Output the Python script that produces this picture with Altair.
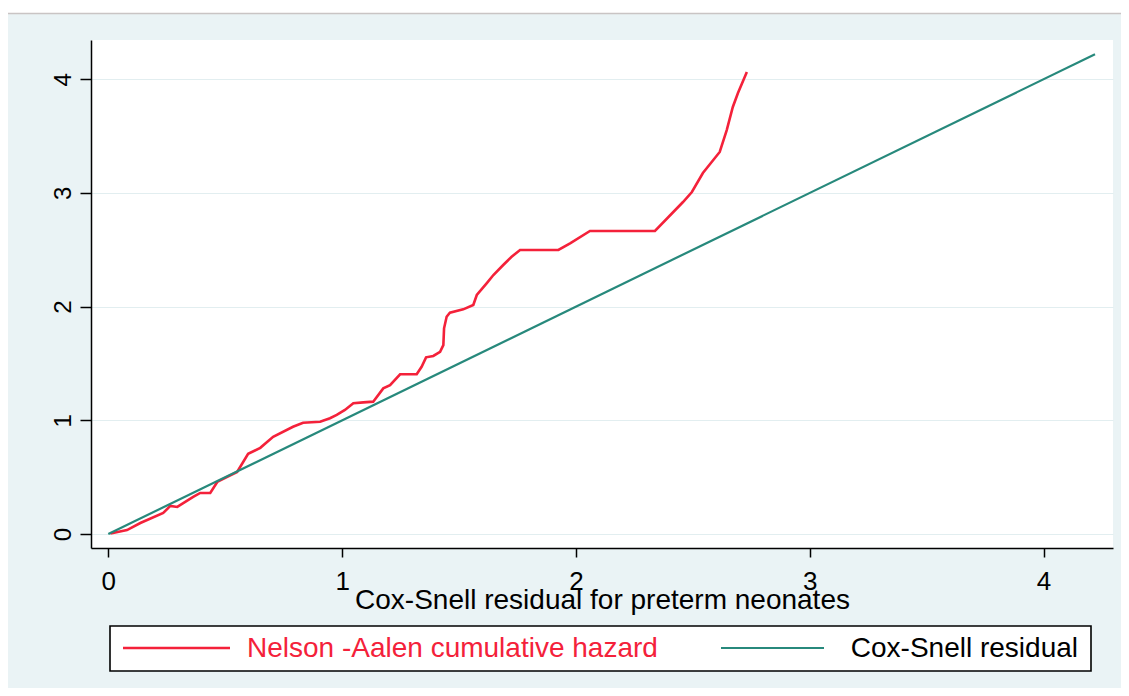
import altair as alt
import pandas as pd

# Nelson-Aalen cumulative hazard
na_x = [0.009, 0.08, 0.137, 0.235, 0.265, 0.295, 0.363, 0.393, 0.436, 0.466, 0.509, 0.551,
        0.598, 0.65, 0.705, 0.79, 0.833, 0.906, 0.948, 0.977, 1.012, 1.048, 1.091, 1.133,
        1.176, 1.205, 1.248, 1.319, 1.34, 1.359, 1.39, 1.419, 1.433, 1.436, 1.447, 1.461,
        1.518, 1.561, 1.576, 1.618, 1.647, 1.689, 1.725, 1.761, 1.925, 1.975, 2.06, 2.338,
        2.458, 2.496, 2.543, 2.615, 2.645, 2.671, 2.693, 2.731]
na_y = [0.005, 0.035, 0.097, 0.185, 0.247, 0.238, 0.326, 0.361, 0.361, 0.458, 0.502, 0.546,
        0.705, 0.758, 0.855, 0.943, 0.978, 0.987, 1.018, 1.047, 1.091, 1.15, 1.158, 1.164,
        1.281, 1.31, 1.405, 1.405, 1.471, 1.554, 1.566, 1.603, 1.662, 1.809, 1.911, 1.946,
        1.976, 2.014, 2.102, 2.205, 2.278, 2.366, 2.439, 2.498, 2.498, 2.557, 2.665, 2.665,
        2.92, 3.008, 3.175, 3.36, 3.553, 3.756, 3.879, 4.063]

# Cox-Snell residual reference line
cs_x = [0.0, 4.22]
cs_y = [0.0, 4.22]

tick_vals = [0, 1, 2, 3, 4]
x_title = "Cox-Snell residual for preterm neonates"
legend_labels = ["Nelson -Aalen cumulative hazard", "Cox-Snell residual"]

RED = "#f4213a"
TEAL = "#27897c"
FONT = "Liberation Sans"

na_df = pd.DataFrame({"x": na_x, "y": na_y})
cs_df = pd.DataFrame({"x": cs_x, "y": cs_y})

W, H = 1022, 508
xscale = alt.Scale(domain=[-0.074, 4.297], nice=False, zero=False)
yscale = alt.Scale(domain=[-0.123, 4.345], nice=False, zero=False)

xaxis = alt.Axis(values=tick_vals, format="d", labelFontSize=26, labelFont=FONT,
                 labelColor="black", tickSize=9, tickColor="black", tickWidth=1.5,
                 domainColor="black", domainWidth=1.5, labelPadding=11, grid=False,
                 title=x_title, titleFont=FONT, titleFontSize=28, titleFontWeight="normal",
                 titleColor="black", titleY=38, titleBaseline="top")
yaxis = alt.Axis(values=tick_vals, format="d", labelFontSize=24, labelFont=FONT,
                 labelColor="black", labelAngle=-90, tickSize=11, tickColor="black",
                 tickWidth=1.5, domainColor="black", domainWidth=1.5, labelPadding=5,
                 grid=True, gridColor="#e2eef0", gridWidth=1.2, title=None)

na_line = alt.Chart(na_df).mark_line(color=RED, strokeWidth=2.6).encode(
    x=alt.X("x:Q", scale=xscale, axis=xaxis),
    y=alt.Y("y:Q", scale=yscale, axis=yaxis),
)
cs_line = alt.Chart(cs_df).mark_line(color=TEAL, strokeWidth=2.2).encode(
    x=alt.X("x:Q", scale=xscale),
    y=alt.Y("y:Q", scale=yscale),
)

# page-top strip and separator line
top_strip = alt.Chart(pd.DataFrame({"a": [0]})).mark_rect(color="white").encode(
    x=alt.value(-83), x2=alt.value(1040), y=alt.value(-33), y2=alt.value(-27))
top_rule = alt.Chart(pd.DataFrame({"a": [0]})).mark_rule(color="#c9c4c4", strokeWidth=1.6).encode(
    x=alt.value(-83), x2=alt.value(1040), y=alt.value(-26.5))

# legend box
leg_box = alt.Chart(pd.DataFrame({"a": [0]})).mark_rect(
    fill="white", stroke="black", strokeWidth=1.6).encode(
    x=alt.value(19), x2=alt.value(1000), y=alt.value(586), y2=alt.value(631))
leg_red = alt.Chart(pd.DataFrame({"a": [0]})).mark_rule(color=RED, strokeWidth=2.6).encode(
    x=alt.value(32), x2=alt.value(139), y=alt.value(608))
leg_teal = alt.Chart(pd.DataFrame({"a": [0]})).mark_rule(color=TEAL, strokeWidth=2.2).encode(
    x=alt.value(630), x2=alt.value(733), y=alt.value(608))
leg_t1 = alt.Chart(pd.DataFrame({"t": [legend_labels[0]]})).mark_text(
    align="left", baseline="middle", font=FONT, fontSize=28, color=RED).encode(
    x=alt.value(156), y=alt.value(609), text="t:N")
leg_t2 = alt.Chart(pd.DataFrame({"t": [legend_labels[1]]})).mark_text(
    align="right", baseline="middle", font=FONT, fontSize=28, color="black").encode(
    x=alt.value(987), y=alt.value(609), text="t:N")

chart = alt.layer(
    top_strip, top_rule, na_line, cs_line, leg_box, leg_red, leg_teal, leg_t1, leg_t2
).properties(
    width=W, height=H,
    autosize=alt.AutoSizeParams(type="none"),
    padding={"left": 83, "top": 32, "right": 8, "bottom": 140},
    background="#eaf3f5",
).configure_view(stroke=None, fill="white")

chart.save("out.html", embed_options={"renderer": "svg", "actions": False})
